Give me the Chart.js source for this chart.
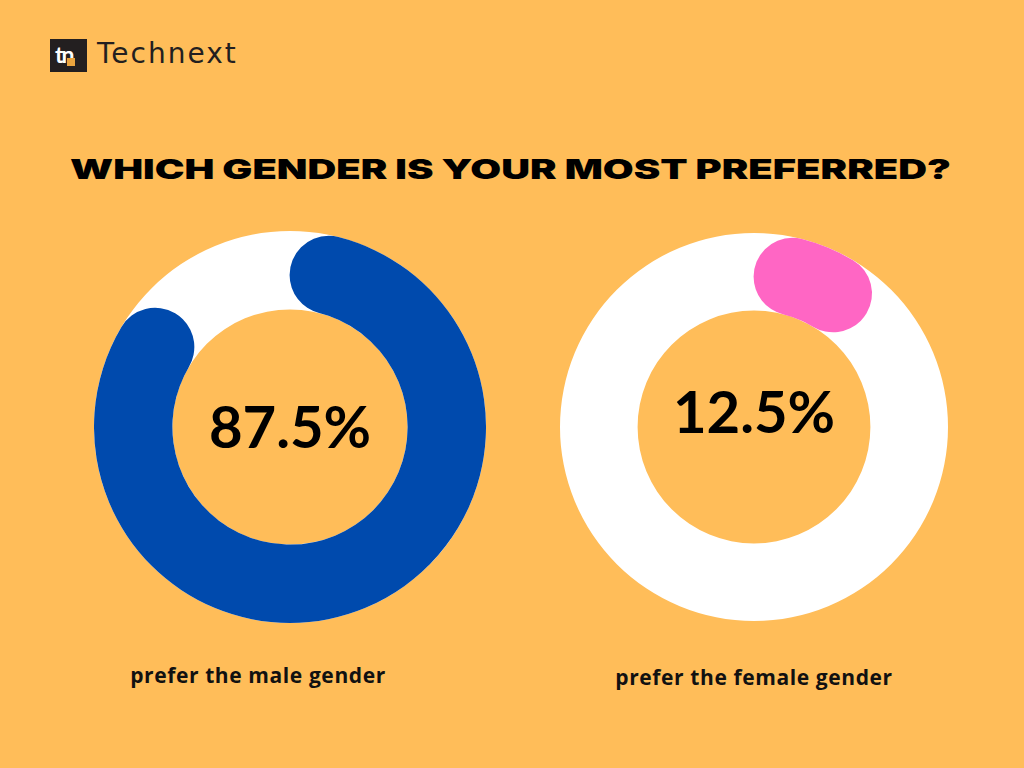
<!DOCTYPE html>
<html>
<head>
<meta charset="utf-8">
<script src="https://cdn.jsdelivr.net/npm/chart.js@4.4.0/dist/chart.umd.min.js"></script>
<style>
  html, body { margin: 0; padding: 0; }
  body { width: 1024px; height: 768px; background: #ffbd59; position: relative; overflow: hidden; font-family: "Open Sans", sans-serif; }
  .logo { position: absolute; left: 50px; top: 39px; width: 37px; height: 33px; background: #231f20; }
  .logo span { position: absolute; left: 5px; top: 1px; color: #fff; font: bold 23px "Lato", sans-serif; letter-spacing: -2px; }
  .logo i { position: absolute; left: 17px; top: 19px; width: 8px; height: 8px; background: #e9a43f; }
  .brand { position: absolute; left: 97px; top: 37px; font: 28px "DejaVu Sans", sans-serif; letter-spacing: 2px; color: #231f20; }
  .title { position: absolute; left: 70px; top: 153px; white-space: nowrap; font: 900 27px "Inter", sans-serif; letter-spacing: 0px; color: #000; transform-origin: 0 0; }
  .chart { position: absolute; }
  .label { position: absolute; width: 400px; text-align: center; font: bold 21px "Open Sans", sans-serif; letter-spacing: 0.6px; color: #111; }
</style>
</head>
<body>
<div class="logo"><span>tn</span><i></i></div>
<div class="brand">Technext</div>
<div class="title" id="title">WHICH GENDER IS YOUR MOST PREFERRED?</div>

<div class="chart" style="left:94px; top:231px; width:392px; height:392px;"><canvas id="chartMale"></canvas></div>
<div class="chart" style="left:560px; top:233px; width:388px; height:388px;"><canvas id="chartFemale"></canvas></div>

<div class="label" style="left:58px; top:661px;">prefer the male gender</div>
<div class="label" style="left:554px; top:663px;">prefer the female gender</div>

<script>
/* =============================
   DATA
============================= */
const maleLabels = ["Male", "Other"];
const maleValues = [87.5, 12.5];
const femaleLabels = ["Female", "Other"];
const femaleValues = [12.5, 87.5];

/* =============================
   PLUGINS: white track + center text
============================= */
const ringTrack = {
    id: "ringTrack",
    beforeDatasetsDraw(chart) {
        const arc = chart.getDatasetMeta(0).data[0];
        if (!arc) return;
        const ctx = chart.ctx;
        ctx.save();
        ctx.beginPath();
        ctx.arc(arc.x, arc.y, arc.outerRadius, 0, Math.PI * 2);
        ctx.arc(arc.x, arc.y, arc.innerRadius, Math.PI * 2, 0, true);
        ctx.closePath();
        ctx.fillStyle = "#ffffff";
        ctx.fill();
        ctx.restore();
    }
};

const centerText = {
    id: "centerText",
    afterDraw(chart, args, opts) {
        const arc = chart.getDatasetMeta(0).data[0];
        const ctx = chart.ctx;
        ctx.save();
        ctx.font = "bold 58px Lato, sans-serif";
        ctx.fillStyle = "#000";
        ctx.textAlign = "center";
        ctx.textBaseline = "middle";
        const v = chart.data.datasets[0].data[0];
        ctx.fillText(v + "%", arc.x, arc.y + (opts.dy || 0));
        ctx.restore();
    }
};

function drawDonut(id, labels, values, color, dy) {
    new Chart(document.getElementById(id), {
        type: "doughnut",
        data: {
            labels: labels,
            datasets: [{
                data: values,
                backgroundColor: [color, "rgba(0,0,0,0)"],
                borderWidth: 0,
                borderRadius: [40, 0]
            }]
        },
        options: {
            responsive: true,
            maintainAspectRatio: false,
            animation: false,
            cutout: "60%",
            rotation: 0,
            layout: { padding: 0 },
            plugins: {
                legend: { display: false },
                tooltip: { enabled: false },
                centerText: { dy: dy }
            }
        },
        plugins: [ringTrack, centerText]
    });
}

drawDonut("chartMale", maleLabels, maleValues, "#004aad", 2);
drawDonut("chartFemale", femaleLabels, femaleValues, "#ff66c4", -13);

// stretch title to reference width
const t = document.getElementById("title");
const w = t.getBoundingClientRect().width;
t.style.transform = "scaleX(" + (881 / w) + ")";
</script>
</body>
</html>
